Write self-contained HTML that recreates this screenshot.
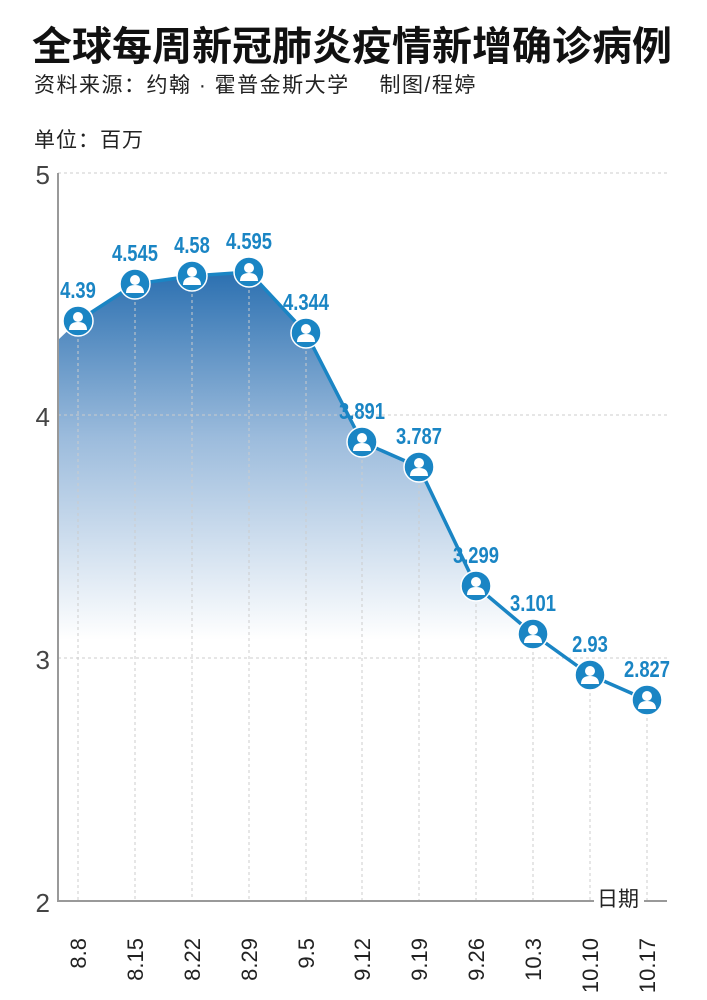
<!DOCTYPE html>
<html><head><meta charset="utf-8"><style>
body{margin:0;background:#fff;width:707px;height:1000px;overflow:hidden}
svg{display:block}
</style></head><body>
<svg width="707" height="1000" xmlns="http://www.w3.org/2000/svg" font-family="Liberation Sans, Noto Sans CJK SC, sans-serif">
<defs>
<linearGradient id="g" gradientUnits="userSpaceOnUse" x1="0" y1="270" x2="0" y2="640">
<stop offset="0" stop-color="#2a6fb0"/><stop offset="0.45" stop-color="#9bbbdc"/><stop offset="1" stop-color="#ffffff"/>
</linearGradient>
<g id="p"><circle r="15" fill="#1a85c4" stroke="#fff" stroke-width="1.5"/><circle cy="-4" r="5" fill="#fff"/><path d="M-9,9 Q-9,1 0,1 Q9,1 9,9 Z" fill="#fff"/></g>
</defs>
<text x="32" y="60" font-size="40" font-weight="bold" fill="#111">全球每周新冠肺炎疫情新增确诊病例</text>
<text x="34" y="92" font-size="21" fill="#222" letter-spacing="1.5">资料来源：约翰 · 霍普金斯大学　 制图/程婷</text>
<text x="34" y="147" font-size="21" fill="#222" letter-spacing="1">单位：百万</text>
<path d="M58,340 L78,321 L135,284 L192,276 L249,272 L306,333 L362,442 L419,467 L476,586 L533,634 L590,675 L647,700 L647,901 L58,901 Z" fill="url(#g)"/>
<g stroke="#ccc" stroke-dasharray="3,3" stroke-width="1">
<line x1="58" y1="173" x2="667" y2="173"/><line x1="58" y1="415" x2="667" y2="415"/><line x1="58" y1="658" x2="667" y2="658"/>
<line x1="78" y1="321" x2="78" y2="901"/><line x1="135" y1="284" x2="135" y2="901"/><line x1="192" y1="276" x2="192" y2="901"/><line x1="249" y1="272" x2="249" y2="901"/><line x1="306" y1="333" x2="306" y2="901"/><line x1="362" y1="442" x2="362" y2="901"/><line x1="419" y1="467" x2="419" y2="901"/><line x1="476" y1="586" x2="476" y2="901"/><line x1="533" y1="634" x2="533" y2="901"/><line x1="590" y1="675" x2="590" y2="901"/><line x1="647" y1="700" x2="647" y2="901"/>
</g>
<line x1="58" y1="173" x2="58" y2="902" stroke="#999" stroke-width="2"/>
<line x1="57" y1="901" x2="667" y2="901" stroke="#999" stroke-width="2"/>
<rect x="594" y="884" width="50" height="26" fill="#fff"/>
<text x="597" y="906" font-size="21" fill="#222">日期</text>
<g font-size="26" fill="#444" text-anchor="end"><text x="50" y="184">5</text><text x="50" y="426">4</text><text x="50" y="669">3</text><text x="50" y="912">2</text></g>
<polyline points="78,321 135,284 192,276 249,272 306,333 362,442 419,467 476,586 533,634 590,675 647,700" fill="none" stroke="#1a85c4" stroke-width="3.5"/>
<g>
<use href="#p" x="78" y="321"/><use href="#p" x="135" y="284"/><use href="#p" x="192" y="276"/><use href="#p" x="249" y="272"/><use href="#p" x="306" y="333"/><use href="#p" x="362" y="442"/><use href="#p" x="419" y="467"/><use href="#p" x="476" y="586"/><use href="#p" x="533" y="634"/><use href="#p" x="590" y="675"/><use href="#p" x="647" y="700"/>
</g>
<g font-size="23" font-weight="bold" fill="#1a85c4" text-anchor="middle" transform="scale(0.8,1)">
<text x="97.5" y="298">4.39</text><text x="168.75" y="261">4.545</text><text x="240" y="253">4.58</text><text x="311.25" y="249">4.595</text><text x="382.5" y="310">4.344</text><text x="452.5" y="419">3.891</text><text x="523.75" y="444">3.787</text><text x="595" y="563">3.299</text><text x="666.25" y="611">3.101</text><text x="737.5" y="652">2.93</text><text x="808.75" y="677">2.827</text>
</g>
<g font-size="22" fill="#222" text-anchor="end">
<text transform="translate(86,938) rotate(-90)">8.8</text><text transform="translate(143,938) rotate(-90)">8.15</text><text transform="translate(200,938) rotate(-90)">8.22</text><text transform="translate(257,938) rotate(-90)">8.29</text><text transform="translate(314,938) rotate(-90)">9.5</text><text transform="translate(370,938) rotate(-90)">9.12</text><text transform="translate(427,938) rotate(-90)">9.19</text><text transform="translate(484,938) rotate(-90)">9.26</text><text transform="translate(541,938) rotate(-90)">10.3</text><text transform="translate(598,938) rotate(-90)">10.10</text><text transform="translate(655,938) rotate(-90)">10.17</text>
</g>
</svg>
</body></html>
